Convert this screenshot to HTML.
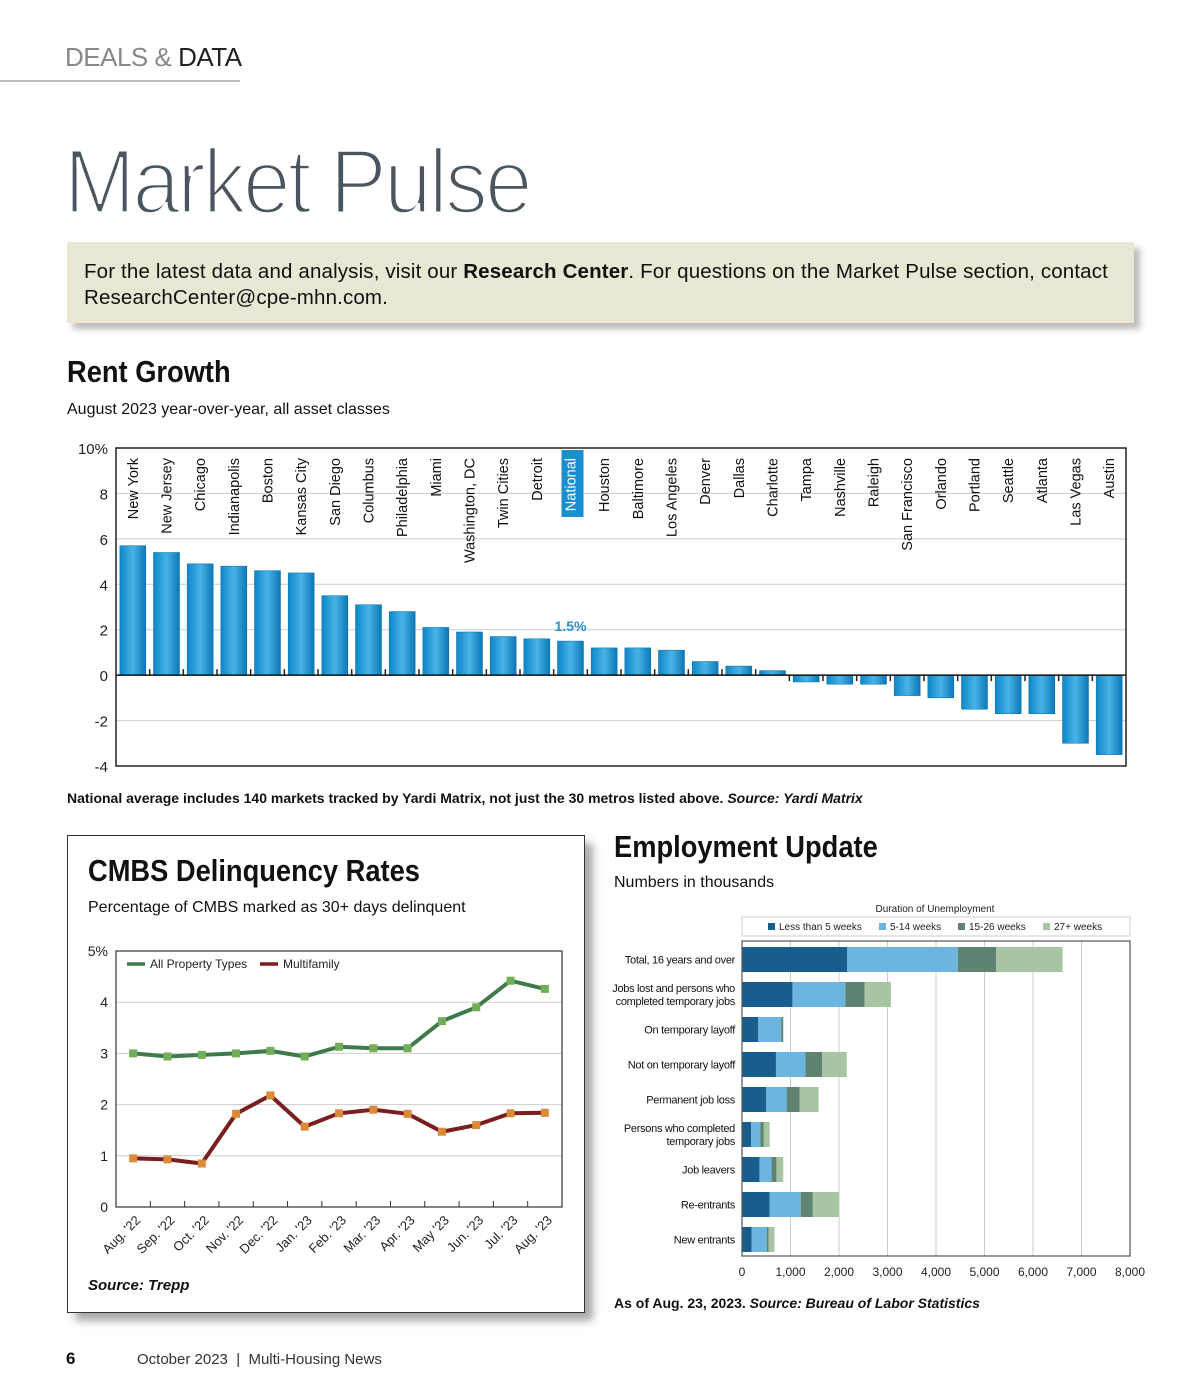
<!DOCTYPE html>
<html><head><meta charset="utf-8">
<style>
body{margin:0;width:1200px;height:1400px;background:#fff;font-family:"Liberation Sans",sans-serif;position:relative;overflow:hidden;color:#111}
.abs{position:absolute}
</style></head>
<body>
<div class="abs" style="left:65px;top:42px;font-size:26px;color:#888;letter-spacing:-0.5px">DEALS &amp; <span style="color:#222">DATA</span></div>
<div class="abs" style="left:0;top:80px;width:240px;height:2px;background:#bbb"></div>
<div class="abs" style="left:64px;top:130px;font-size:92px;color:#4a5560;letter-spacing:-3px;-webkit-text-stroke:3.5px #fff;transform:scaleX(0.93);transform-origin:left">Market Pulse</div>
<div class="abs" style="left:67px;top:242px;width:1050px;height:62px;padding:17px 0 2px 17px;background:#e9e7d3;box-shadow:6px 6px 6px #bbb;font-size:20.5px;line-height:26px;color:#111;letter-spacing:0.15px">For the latest data and analysis, visit our <b>Research Center</b>. For questions on the Market Pulse section, contact ResearchCenter@cpe-mhn.com.</div>

<div class="abs" style="left:67px;top:354px;font-size:31px;font-weight:bold;transform:scaleX(0.88);transform-origin:left">Rent Growth</div>
<div class="abs" style="left:67px;top:401px;font-size:16px">August 2023 year-over-year, all asset classes</div>
<svg class="abs" style="left:0;top:430px" width="1200" height="350" id="rent"></svg>
<div class="abs" style="left:67px;top:790px;font-size:14px;font-weight:bold">National average includes 140 markets tracked by Yardi Matrix, not just the 30 metros listed above. <i>Source: Yardi Matrix</i></div>

<div class="abs" style="left:67px;top:835px;width:516px;height:476px;border:1px solid #333;box-shadow:8px 8px 8px #aaa;background:#fff"></div>
<div class="abs" style="left:88px;top:853px;font-size:31px;font-weight:bold;transform:scaleX(0.88);transform-origin:left">CMBS Delinquency Rates</div>
<div class="abs" style="left:88px;top:899px;font-size:16px">Percentage of CMBS marked as 30+ days delinquent</div>
<svg class="abs" style="left:67px;top:930px" width="516" height="340" id="cmbs"></svg>
<div class="abs" style="left:88px;top:1277px;font-size:15px;font-weight:bold;font-style:italic">Source: Trepp</div>

<div class="abs" style="left:614px;top:829px;font-size:31px;font-weight:bold;transform:scaleX(0.88);transform-origin:left">Employment Update</div>
<div class="abs" style="left:614px;top:874px;font-size:16px">Numbers in thousands</div>
<svg class="abs" style="left:600px;top:895px" width="600" height="390" id="emp"></svg>
<div class="abs" style="left:614px;top:1295px;font-size:14px;font-weight:bold">As of Aug. 23, 2023. <i>Source: Bureau of Labor Statistics</i></div>

<div class="abs" style="left:66px;top:1349px;font-size:17px;font-weight:bold">6</div>
<div class="abs" style="left:137px;top:1351px;font-size:15px;color:#333">October 2023 &nbsp;|&nbsp; Multi-Housing News</div>

<script>
const NS="http://www.w3.org/2000/svg";
function mk(p,t,a,txt){const e=document.createElementNS(NS,t);for(const k in a)e.setAttribute(k,a[k]);if(txt!==undefined)e.textContent=txt;p.appendChild(e);return e;}

// ---- Rent growth data ----
const rentCities=["New York","New Jersey","Chicago","Indianapolis","Boston","Kansas City","San Diego","Columbus","Philadelphia","Miami","Washington, DC","Twin Cities","Detroit","National","Houston","Baltimore","Los Angeles","Denver","Dallas","Charlotte","Tampa","Nashville","Raleigh","San Francisco","Orlando","Portland","Seattle","Atlanta","Las Vegas","Austin"];
const rentValues=[5.7,5.4,4.9,4.8,4.6,4.5,3.5,3.1,2.8,2.1,1.9,1.7,1.6,1.5,1.2,1.2,1.1,0.6,0.4,0.2,-0.3,-0.4,-0.4,-0.9,-1.0,-1.5,-1.7,-1.7,-3.0,-3.5];
const rentTicks=[10,8,6,4,2,0,-2,-4];

// ---- CMBS data ----
const cmbsMonths=["Aug. '22","Sep. '22","Oct. '22","Nov. '22","Dec. '22","Jan. '23","Feb. '23","Mar. '23","Apr. '23","May '23","Jun. '23","Jul. '23","Aug. '23"];
const cmbsAll=[3.0,2.94,2.97,3.0,3.05,2.94,3.13,3.1,3.1,3.63,3.9,4.42,4.26];
const cmbsMulti=[0.95,0.93,0.85,1.82,2.18,1.57,1.83,1.9,1.82,1.47,1.6,1.83,1.84];
const cmbsTicks=[0,1,2,3,4,5];

// ---- Employment data ----
const empCats=[["Total, 16 years and over"],["Jobs lost and persons who","completed temporary jobs"],["On temporary layoff"],["Not on temporary layoff"],["Permanent job loss"],["Persons who completed","temporary jobs"],["Job leavers"],["Re-entrants"],["New entrants"]];
const empLess5=[2170,1040,330,700,500,190,360,570,200];
const emp5to14=[2280,1090,480,610,420,190,250,640,310];
const emp15to26=[790,400,40,340,270,70,100,250,40];
const emp27plus=[1370,540,0,510,390,120,140,540,120];
const empSeriesNames=["Less than 5 weeks","5-14 weeks","15-26 weeks","27+ weeks"];
const empTicks=[0,1000,2000,3000,4000,5000,6000,7000,8000];

// ===== Rent chart =====
(function(){
const s=document.getElementById("rent");
const L=116,R=1126,T=18,B=336;
const y=v=>T+(10-v)/14*(B-T);
const slot=(R-L)/rentCities.length;
const x=i=>L+slot*(i+0.5);
const d=mk(s,"defs",{});
const g=mk(d,"linearGradient",{id:"bg",x1:0,x2:1,y1:0,y2:0});
mk(g,"stop",{offset:"0","stop-color":"#0d86c8"});mk(g,"stop",{offset:"0.5","stop-color":"#47b3e6"});mk(g,"stop",{offset:"1","stop-color":"#0b78b8"});
rentTicks.forEach(t=>{
  if(t!==0&&t!==10&&t!==-4){const l=mk(s,"line",{x1:L,x2:R,y1:y(t),y2:y(t),stroke:"#ccc","stroke-width":1});}
  const tx=mk(s,"text",{x:L-8,y:y(t)+6,"text-anchor":"end","font-size":15,fill:"#222"},t===10?"10%":String(t));
  
});
rentValues.forEach((v,i)=>{
  const bw=26;const y0=y(0),yv=y(v);
  const r=mk(s,"rect",{x:x(i)-bw/2,y:Math.min(y0,yv),width:bw,height:Math.abs(yv-y0),fill:"url(#bg)",stroke:"#0a6aa0","stroke-width":0.5});
  
  const lx=x(i),ly=T+10;
  if(rentCities[i]==="National"){
    const hb=mk(s,"rect",{x:lx-9,y:ly-8,width:22,height:67,fill:"#1a8fd0"});
    
  }
  const t=mk(s,"text",{x:lx,y:ly,"font-size":14.5,"text-anchor":"end",fill:rentCities[i]==="National"?"#fff":"#111",transform:`rotate(-90 ${lx} ${ly}) translate(0 5)`},rentCities[i]);
  
  if(rentCities[i]==="National"){const vl=mk(s,"text",{x:lx,y:yv-10,"font-size":14,"font-weight":"bold","text-anchor":"middle",fill:"#2a8fc9"},v+"%");}
  if(i>0){const tk=mk(s,"line",{x1:L+slot*i,x2:L+slot*i,y1:y(0),y2:y(0)+(v>=0?-6:6),stroke:"#222","stroke-width":1.5});}
});
const z=mk(s,"line",{x1:L,x2:R,y1:y(0),y2:y(0),stroke:"#111","stroke-width":1.5});
const f=mk(s,"rect",{x:L,y:T,width:R-L,height:B-T,fill:"none",stroke:"#222","stroke-width":1.5});
})();

// ===== CMBS chart ===== (svg origin 67,930)
(function(){
const s=document.getElementById("cmbs");
const L=49,R=495,T=21,B=277;
const y=v=>B-v/5*(B-T);
const step=(R-L)/cmbsMonths.length;
const x=i=>L+step*(i+0.5);
cmbsTicks.forEach(t=>{
  if(t>0&&t<5){const l=mk(s,"line",{x1:L,x2:R,y1:y(t),y2:y(t),stroke:"#ccc"});}
  const tx=mk(s,"text",{x:L-8,y:y(t)+5,"text-anchor":"end","font-size":14,fill:"#222"},t===5?"5%":String(t));
  
});
const fr=mk(s,"rect",{x:L,y:T,width:R-L,height:B-T,fill:"none",stroke:"#333","stroke-width":1.2});
cmbsMonths.forEach((m,i)=>{
  if(i>0){const tk=mk(s,"line",{x1:L+step*i,x2:L+step*i,y1:B,y2:B-6,stroke:"#333"});}
  const lx=x(i)+8,ly=B+14;
  const t=mk(s,"text",{x:lx,y:ly,"font-size":13,"text-anchor":"end",fill:"#222",transform:`rotate(-45 ${lx} ${ly})`},m);
  
});
[[cmbsAll,"#3f7a4b","#72ae57","all-property-types"],[cmbsMulti,"#7a1f1f","#d98a3a","multifamily"]].forEach(([arr,lc,mc,nm])=>{
  const p=mk(s,"polyline",{points:arr.map((v,i)=>x(i)+","+y(v)).join(" "),fill:"none",stroke:lc,"stroke-width":4,"stroke-linejoin":"round"});
  
  arr.forEach((v,i)=>{const r=mk(s,"rect",{x:x(i)-4,y:y(v)-4,width:8,height:8,fill:mc});});
});
const lg=[["All Property Types","#3f7a4b",60],["Multifamily","#7a1f1f",193]];
lg.forEach(([n,c,lx])=>{
  const l=mk(s,"line",{x1:lx,x2:lx+18,y1:34,y2:34,stroke:c,"stroke-width":3.5});
  const t=mk(s,"text",{x:lx+23,y:38,"font-size":12,fill:"#222"},n);
});
})();

// ===== Employment chart ===== (svg origin 600,895)
(function(){
const s=document.getElementById("emp");
const L=142,R=530,T=46,B=361;
const x=v=>L+v/8000*(R-L);
const rowH=(B-T)/empCats.length;
const cy=i=>T+rowH*(i+0.5)+1;
const cols=["#175e8d","#6db5e1","#5e8371","#a8c5a3"];
const t0=mk(s,"text",{x:335,y:17,"font-size":10,"text-anchor":"middle",fill:"#222"},"Duration of Unemployment");
const lb=mk(s,"rect",{x:142,y:22,width:388,height:19,fill:"#fff",stroke:"#ccc"});
const lxs=[168,279,358,443];
empSeriesNames.forEach((n,k)=>{
  const r=mk(s,"rect",{x:lxs[k],y:28,width:7,height:7,fill:cols[k]});
  const t=mk(s,"text",{x:lxs[k]+11,y:35,"font-size":10,fill:"#222"},n);
});
empTicks.forEach(t=>{
  if(t>0){const l=mk(s,"line",{x1:x(t),x2:x(t),y1:T,y2:B,stroke:"#ccc"});}
  const tx=mk(s,"text",{x:x(t),y:B+20,"font-size":12,"text-anchor":"middle",fill:"#222"},t.toLocaleString("en-US"));
  
});
const series=[empLess5,emp5to14,emp15to26,emp27plus];
empCats.forEach((c,i)=>{
  let acc=0;
  series.forEach((arr,k)=>{
    const v=arr[i];
    const r=mk(s,"rect",{x:x(acc),y:cy(i)-12.5,width:x(acc+v)-x(acc),height:25,fill:cols[k]});
    
    acc+=v;
  });
  c.forEach((line,j)=>{
    const t=mk(s,"text",{x:135,y:cy(i)+4+(j-(c.length-1)/2)*13,"font-size":11,"text-anchor":"end",fill:"#111",style:"letter-spacing:-0.3px"},line);
    
  });
});
const f=mk(s,"rect",{x:L,y:T,width:R-L,height:B-T,fill:"none",stroke:"#555","stroke-width":1.2});
})();
</script>
</body></html>
